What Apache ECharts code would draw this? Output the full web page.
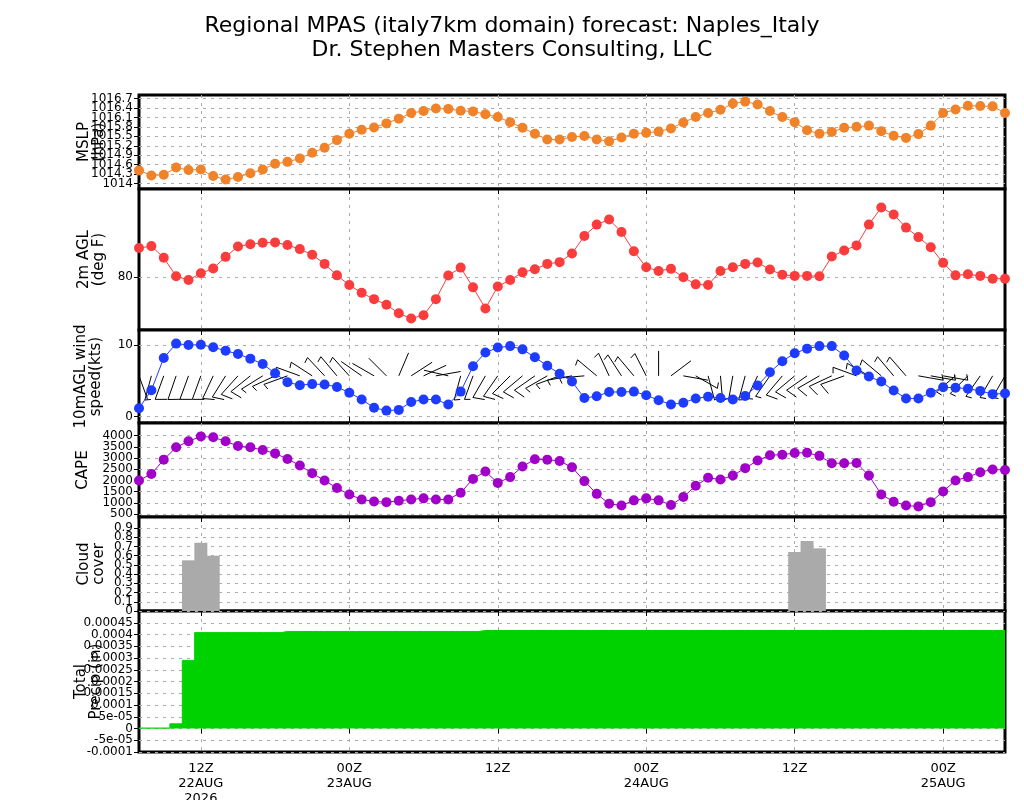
<!DOCTYPE html>
<html>
<head>
<meta charset="utf-8">
<title>MPAS meteogram Naples</title>
<script src="https://cdn.jsdelivr.net/npm/echarts@6/dist/echarts.min.js"></script>
<style>
    html, body { margin: 0; padding: 0; background: #fff; }
    #main { width: 1024px; height: 800px; }
</style>
</head>
<body>
<div id="main"></div>
<script>
// hourly forecast, first point = 07Z 22AUG 2026
var mslp = [1014.42,1014.26,1014.28,1014.51,1014.43,1014.45,1014.24,1014.13,1014.21,1014.33,
    1014.45,1014.63,1014.69,1014.80,1014.98,1015.14,1015.38,1015.58,1015.71,1015.78,
    1015.91,1016.06,1016.24,1016.30,1016.38,1016.37,1016.31,1016.29,1016.20,1016.11,
    1015.95,1015.77,1015.58,1015.40,1015.40,1015.48,1015.51,1015.40,1015.34,1015.46,
    1015.58,1015.61,1015.65,1015.75,1015.94,1016.11,1016.24,1016.34,1016.54,1016.60,
    1016.51,1016.30,1016.11,1015.95,1015.69,1015.58,1015.64,1015.77,1015.80,1015.84,
    1015.66,1015.52,1015.45,1015.57,1015.84,1016.24,1016.35,1016.47,1016.46,1016.45,
    1016.24];
var temp2m = [81.65,81.76,81.10,80.05,79.84,80.22,80.49,81.15,81.74,81.87,
    81.95,81.97,81.82,81.59,81.27,80.75,80.10,79.55,79.11,78.75,
    78.43,77.95,77.65,77.84,78.75,80.09,80.54,79.42,78.22,79.47,
    79.84,80.27,80.45,80.75,80.85,81.34,82.33,82.98,83.27,82.56,
    81.47,80.56,80.35,80.47,79.99,79.59,79.55,80.35,80.56,80.75,
    80.83,80.43,80.13,80.07,80.07,80.05,81.17,81.51,81.80,82.98,
    83.95,83.55,82.81,82.27,81.69,80.81,80.10,80.16,80.07,79.91,
    79.91];
var windSpd = [1.17,3.7,8.2,10.2,10.0,10.05,9.7,9.2,8.75,8.1,
    7.35,6.05,4.8,4.4,4.55,4.5,4.15,3.35,2.4,1.25,
    0.85,0.95,2.05,2.4,2.4,1.7,3.5,7.05,8.95,9.65,
    9.85,9.4,8.3,7.1,6.0,4.9,2.6,2.85,3.45,3.45,
    3.5,3.0,2.3,1.7,1.95,2.55,2.8,2.6,2.4,2.9,
    4.35,6.2,7.75,8.85,9.5,9.85,9.85,8.55,6.45,5.6,
    4.9,3.65,2.55,2.55,3.35,4.1,4.05,3.9,3.6,3.15,
    3.25];
// direction the wind blows from (deg)
var windDir = [160,195,200,199,200,200,205,212,222,231,
    238,245,250,290,303,317,320,318,305,300,
    315,23,57,65,80,283,195,200,210,215,
    225,230,235,240,250,260,265,310,335,327,
    320,333,0,53,100,120,165,175,190,195,
    205,215,220,230,235,240,245,250,290,300,
    310,320,319,100,100,100,230,225,215,210,
    210];
var cape = [2000,2290,2930,3480,3750,3970,3930,3750,3540,3480,
    3360,3210,2960,2670,2320,2000,1660,1370,1150,1060,
    1030,1090,1150,1200,1150,1150,1450,2070,2400,1890,
    2150,2620,2950,2930,2870,2590,1970,1400,960,880,
    1110,1200,1110,900,1260,1760,2120,2040,2220,2550,
    2890,3130,3150,3230,3240,3100,2770,2770,2780,2220,
    1370,1050,880,840,1030,1510,2000,2150,2370,2490,
    2470];
var cloud = [0,0,0,0,0.55,0.74,0.60,0,0,0,
    0,0,0,0,0,0,0,0,0,0,
    0,0,0,0,0,0,0,0,0,0,
    0,0,0,0,0,0,0,0,0,0,
    0,0,0,0,0,0,0,0,0,0,
    0,0,0,0.64,0.76,0.68,0,0,0,0,
    0,0,0,0,0,0,0,0,0,0,
    0];
var precip = [0.000002,0.000002,0.000002,0.00002,0.00029,0.000408,0.000408,0.000408,0.000408,0.000408,
    0.000408,0.000408,0.000413,0.000413,0.000413,0.000413,0.000413,0.000413,0.000413,0.000413,
    0.000413,0.000413,0.000413,0.000413,0.000413,0.000413,0.000413,0.000413,0.000417,0.000417,
    0.000417,0.000417,0.000417,0.000417,0.000417,0.000417,0.000417,0.000417,0.000417,0.000417,
    0.000417,0.000417,0.000417,0.000417,0.000417,0.000417,0.000417,0.000417,0.000417,0.000417,
    0.000417,0.000417,0.000417,0.000417,0.000417,0.000417,0.000417,0.000417,0.000417,0.000417,
    0.000417,0.000417,0.000417,0.000417,0.000417,0.000417,0.000417,0.000417,0.000417,0.000417,
    0.000417];

// time axis ticks
var tickIdx = [5, 17, 29, 41, 53, 65];
var tickText = ['12Z\n22AUG\n2026', '00Z\n23AUG', '12Z', '00Z\n24AUG', '12Z', '00Z\n25AUG'];

// y axis ticks of each panel
var mslpTicks = [1014, 1014.3, 1014.6, 1014.9, 1015.2, 1015.5, 1015.8, 1016.1, 1016.4, 1016.7];
var tempTicks = [80];
var windTicks = [0, 10];
var capeTicks = [500, 1000, 1500, 2000, 2500, 3000, 3500, 4000];
var cloudTicks = [0, 0.1, 0.2, 0.3, 0.4, 0.5, 0.6, 0.7, 0.8, 0.9];
var precipTicks = [-0.0001, -0.00005, 0, 0.00005, 0.0001, 0.00015, 0.0002, 0.00025, 0.0003, 0.00035, 0.0004, 0.00045];
var precipText = ['-0.0001', '-5e-05', '0', '5e-05', '0.0001', '0.00015', '0.0002', '0.00025', '0.0003', '0.00035', '0.0004', '0.00045'];

var hours = [];
for (var i = 0; i < mslp.length; i++) {
    var h = (7 + i) % 24;
    var d = 22 + Math.floor((7 + i) / 24);
    hours.push((h < 10 ? '0' : '') + h + 'Z' + d + 'AUG');
}

var FONT = 'DejaVu Sans';
var barbLevel = 5.7;   // kts level where barbs are anchored

var panels = [
    {top: 95,  height: 94,  min: 1013.83, max: 1016.81, ticks: mslpTicks, name: 'MSLP\n(hPa)', gap: 32},
    {top: 189, height: 141, min: 77, max: 85, ticks: tempTicks, name: '2m AGL\n(deg F)', gap: 32},
    {top: 330, height: 93,  min: -0.88, max: 12.1, ticks: windTicks, name: '10mAGL wind\nspeed(kts)', gap: 35},
    {top: 423, height: 94,  min: 366, max: 4568, ticks: capeTicks, name: 'CAPE', gap: 48},
    {top: 517, height: 94,  min: 0, max: 1.02, ticks: cloudTicks, name: 'Cloud\ncover', gap: 32},
    {top: 611, height: 141, min: -0.0001, max: 0.0005, ticks: precipTicks, name: 'Total\nPrecip (in)', gap: 35}
];

function isTick(idx) {
    return tickIdx.indexOf(idx) >= 0;
}

function yLabelFormatter(k) {
    return function (v) {
        if (k === 5) {
            for (var j = 0; j < precipTicks.length; j++) {
                if (Math.abs(precipTicks[j] - v) < 1e-9) return precipText[j];
            }
        }
        return String(Math.round(v * 10) / 10);
    };
}

function yLabelStyle(k, values) {
    return {
        customValues: values, margin: 6,
        showMinLabel: true, showMaxLabel: true, hideOverlap: false,
        fontFamily: FONT, fontSize: 12, color: '#000',
        formatter: yLabelFormatter(k)
    };
}

var grids = [], xAxes = [], yAxes = [], yExtra = [];
panels.forEach(function (p, k) {
    grids.push({
        left: 139, right: 19, top: p.top, height: p.height,
        outerBoundsMode: 'none', containLabel: false,
        show: true, borderColor: '#000', borderWidth: 3, backgroundColor: '#fff'
    });
    xAxes.push({
        type: 'category', gridIndex: k, data: hours, boundaryGap: false,
        axisLine: {show: false},
        axisTick: {show: true, interval: function (idx) { return isTick(idx); }, length: 5, lineStyle: {color: '#000'}},
        axisLabel: {
            show: k === 5,
            interval: function (idx) { return isTick(idx); },
            formatter: function (v, idx) { return tickText[tickIdx.indexOf(idx)] || ''; },
            fontFamily: FONT, fontSize: 13, color: '#000', lineHeight: 15, margin: 9
        },
        splitLine: {show: true, interval: function (idx) { return isTick(idx); },
            lineStyle: {color: '#aaa', type: [3, 5], width: 1}}
    });
    // crowded labels are split over two overlaid axes so none gets dropped
    var even = p.ticks.filter(function (t, j) { return j % 2 === 0; });
    var odd = p.ticks.filter(function (t, j) { return j % 2 === 1; });
    var many = p.ticks.length > 2;
    yAxes.push({
        type: 'value', gridIndex: k, min: p.min, max: p.max, position: 'left',
        name: p.name, nameLocation: 'middle', nameRotate: 90, nameGap: p.gap,
        nameMoveOverlap: false,
        nameTextStyle: {fontFamily: FONT, fontSize: 15, color: '#000', lineHeight: 15},
        axisLine: {show: false},
        axisTick: {show: true, customValues: p.ticks, length: 5, lineStyle: {color: '#000'}},
        axisLabel: yLabelStyle(k, many ? even : p.ticks),
        splitLine: {show: true, lineStyle: {color: '#aaa', type: [3, 5], width: 1}}
    });
    if (many) {
        yExtra.push({
            type: 'value', gridIndex: k, min: p.min, max: p.max, position: 'left', offset: 0,
            axisLine: {show: false},
            axisTick: {show: false},
            axisLabel: yLabelStyle(k, odd),
            splitLine: {show: false}
        });
    }
});

function lineSeries(k, data, color) {
    return {
        type: 'line', xAxisIndex: k, yAxisIndex: k, data: data,
        symbol: 'circle', symbolSize: 10, showAllSymbol: true,
        lineStyle: {color: color, width: 1}, itemStyle: {color: color},
        z: 4, animation: false
    };
}

// wind barbs: staff points to where the wind comes from, feather at the tip
var barbData = windSpd.map(function (s, i) { return [i, s, windDir[i]]; });
function renderBarb(params, api) {
    var a = api.coord([api.value(0), barbLevel]);
    var spd = api.value(1), rad = api.value(2) * Math.PI / 180;
    var L = 25;
    var ux = Math.sin(rad), uy = -Math.cos(rad);
    var tx = a[0] + ux * L, ty = a[1] + uy * L;
    var kids = [{type: 'line', shape: {x1: a[0], y1: a[1], x2: tx, y2: ty}, style: {stroke: '#000', lineWidth: 1}}];
    var n = Math.round(spd / 5);
    if (n > 0) {
        var ang = Math.atan2(uy, ux) - 110 * Math.PI / 180;
        var len = n >= 2 ? 12 : 6;
        kids.push({type: 'line', shape: {x1: tx, y1: ty, x2: tx + Math.cos(ang) * len, y2: ty + Math.sin(ang) * len},
            style: {stroke: '#000', lineWidth: 1}});
    }
    return {type: 'group', children: kids};
}

var myChart = echarts.init(document.getElementById('main'), null, {renderer: 'canvas'});
var option = {
    backgroundColor: '#fff',
    animation: false,
    title: {
        text: 'Regional MPAS (italy7km domain) forecast: Naples_Italy\nDr. Stephen Masters Consulting, LLC',
        left: 'center', top: 9,
        textStyle: {fontFamily: FONT, fontSize: 22, fontWeight: 'normal', color: '#000', lineHeight: 24}
    },
    grid: grids,
    xAxis: xAxes,
    yAxis: yAxes.concat(yExtra),
    series: [
        lineSeries(0, mslp, '#f0822a'),
        lineSeries(1, temp2m, '#fa3c3c'),
        {
            type: 'custom', xAxisIndex: 2, yAxisIndex: 2, data: barbData,
            encode: {x: 0, y: 1}, renderItem: renderBarb, z: 3, silent: true
        },
        lineSeries(2, windSpd, '#1e3cff'),
        lineSeries(3, cape, '#a000c8'),
        {
            type: 'bar', xAxisIndex: 4, yAxisIndex: 4, data: cloud,
            barWidth: 13, itemStyle: {color: '#aaaaaa'}, z: 3
        },
        {
            // accumulated precip drawn as hourly steps
            type: 'line', xAxisIndex: 5, yAxisIndex: 5, data: precip,
            step: 'middle', symbol: 'none',
            lineStyle: {color: '#00d200', width: 1},
            areaStyle: {color: '#00d200', opacity: 1}, z: 3
        }
    ]
};
myChart.setOption(option);
</script>
</body>
</html>
